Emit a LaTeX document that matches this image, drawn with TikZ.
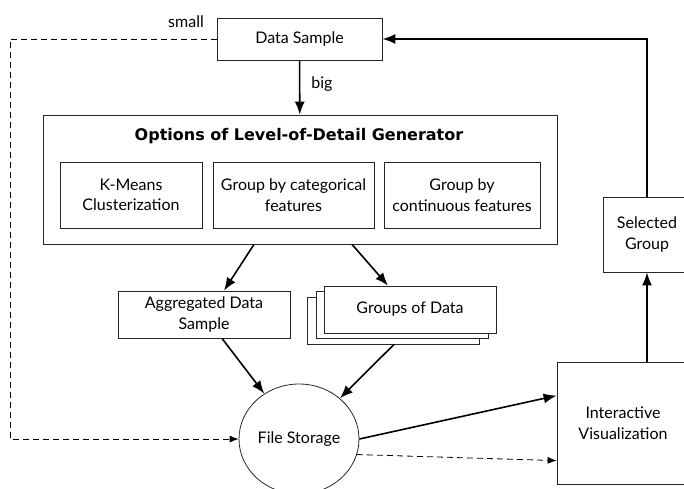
\documentclass[tikz,border=0pt]{standalone}
\usepackage{fontspec}
\setmainfont{Lato}
\newfontfamily\titlefont{DejaVu Sans}
\usetikzlibrary{arrows.meta,shapes.geometric,calc}
\begin{document}
\begin{tikzpicture}[x=1pt,y=-1pt,
  font=\fontsize{16}{20.5}\selectfont,
  box/.style={draw=black!85,line width=0.8pt,fill=white,rectangle,align=center,inner sep=2pt},
  flow/.style={line width=1.6pt,-{Latex[length=13pt,width=10pt]}},
  weak/.style={line width=0.8pt,dash pattern=on 6pt off 4pt,-{Latex[length=9pt,width=7pt]}}]
\useasboundingbox (0,0) rectangle (684,488);
\clip (0,0) rectangle (684,488);

% top input
\node[box,minimum width=165pt,minimum height=42pt] (ds) at (299.5,39) {Data Sample};

% generator options
\node[box,minimum width=514pt,minimum height=129pt] (opt) at (300,179.5) {};
\node[font=\titlefont\fontsize{16}{19}\selectfont\bfseries] (title) at (299,136) {Options of Level-of-Detail Generator};
\node[box,minimum width=142pt,minimum height=66pt] (km) at (131,195) {K-Means\\Clusterization};
\node[box,minimum width=161pt,minimum height=66pt] (cat) at (293.5,195) {Group by categorical\\features};
\node[box,minimum width=156pt,minimum height=66pt] (cont) at (462,195) {Group by\\continuous features};

% outputs of the generator
\node[box,minimum width=172pt,minimum height=47pt] (agg) at (204,314.5) {Aggregated Data\\Sample};
\node[box,minimum width=172pt,minimum height=47pt] (grpc) at (393,320.5) {};
\node[box,minimum width=172pt,minimum height=47pt] (grpb) at (402,315) {};
\node[box,minimum width=172pt,minimum height=47pt] (grp) at (410,309.5) {Groups of Data};

% storage and viewer
\node[draw=black!85,line width=0.8pt,ellipse,minimum width=120pt,minimum height=110pt,inner sep=0pt] (fs) at (299,439) {File Storage};
\node[box,minimum width=132pt,minimum height=122pt] (iv) at (623,423) {Interactive\\Visualization};
\node[box,minimum width=88pt,minimum height=75pt] (sg) at (647,234.5) {Selected\\Group};

% labels
\node (small) at (186,22) {small};
\node (big) at (322,84) {big};

% connection points
\coordinate (o1) at ($(opt.south)+(-46,0)$);
\coordinate (o2) at ($(opt.south)+(52,0)$);
\coordinate (a1) at ($(agg.south)+(18,0)$);
\coordinate (g1) at ($(grpc.south)+(1,0)$);
\coordinate (i1) at ($(iv.north west)+(0,34)$);
\coordinate (i2) at ($(iv.north west)+(0,99)$);
\coordinate (i3) at (iv.north -| sg.south);
\coordinate (lc) at (10,39);
\coordinate (lb) at (10,439);

% connectors
\draw[flow] (ds) -- (opt);
\draw[flow] (o1) -- ($(agg.north)+(20,0)$);
\draw[flow] (o2) -- ($(grp.north)+(-22,0)$);
\draw[flow] (a1) -- (fs);
\draw[flow] (g1) -- (fs);
\draw[flow] (fs.east) -- (i1);
\draw[weak] (fs.-15) -- (i2);
\draw[weak] (ds.west) -- (lc) -- (lb) -- (fs.west);
\draw[flow] (i3) -- (sg.south);
\draw[flow] (sg.north) |- (ds.east);
\end{tikzpicture}
\end{document}
